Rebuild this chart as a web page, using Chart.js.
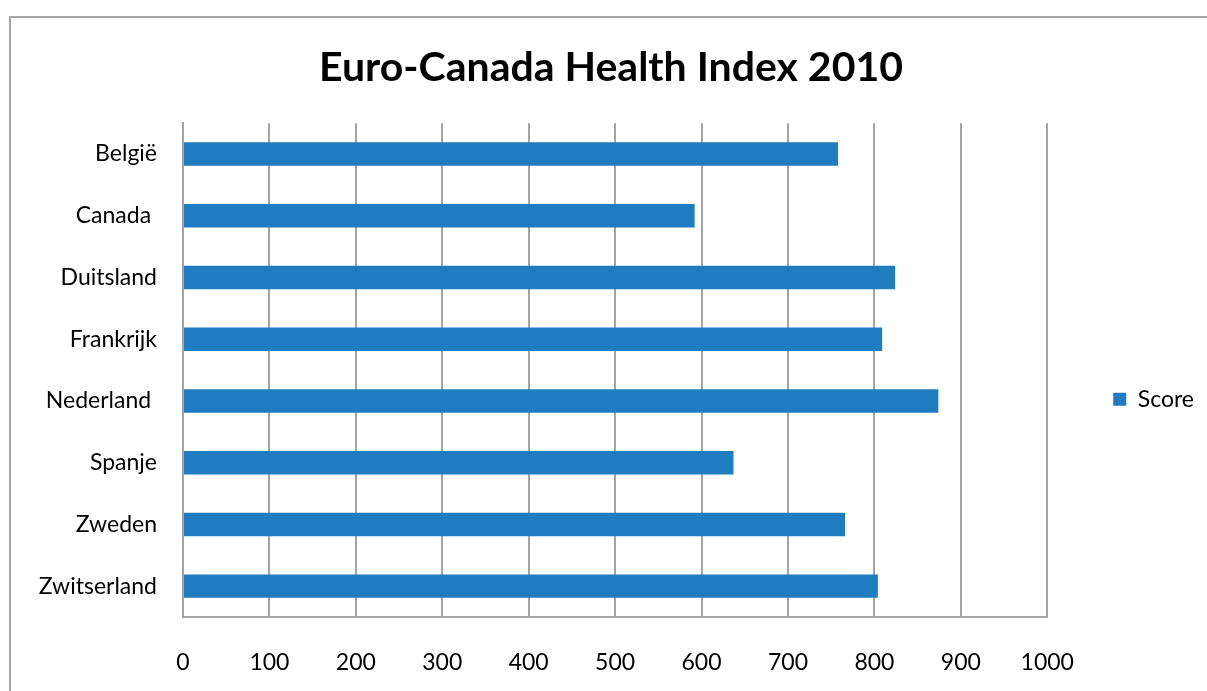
<!DOCTYPE html>
<html>
<head>
<meta charset="utf-8">
<title>Euro-Canada Health Index 2010</title>
<script src="https://cdn.jsdelivr.net/npm/chart.js@4.4.1/dist/chart.umd.min.js"></script>
<style>
  html, body { margin: 0; padding: 0; background: #ffffff; }
  body { width: 1207px; height: 691px; position: relative; overflow: hidden; }
  /* outer frame of the chart object */
  #frame {
    position: absolute; left: 9px; top: 16px; width: 1300px; height: 800px;
    border-left: 2px solid #a6a6a6; border-top: 2px solid #a6a6a6;
    box-sizing: border-box;
  }
  #wrap { position: absolute; left: 0; top: 0; width: 1207px; height: 691px; }
</style>
</head>
<body>
<div id="frame"></div>
<div id="wrap"><canvas id="chart" width="1207" height="691"></canvas></div>
<script>
// Countries and their index score
const countries = ['België', 'Canada ', 'Duitsland', 'Frankrijk', 'Nederland ', 'Spanje', 'Zweden', 'Zwitserland'];
const scores = [758, 592, 824, 809, 874, 637, 766, 804];
const seriesName = 'Score';
const chartTitle = 'Euro-Canada Health Index 2010';
const axisMin = 0;
const axisMax = 1000;
const axisStep = 100;

const barBlue = '#1f7cc0';
const gridGrey = '#a3a3a6';
const labelFont = { family: 'Lato, "Open Sans", sans-serif', size: 23 };

new Chart(document.getElementById('chart'), {
  type: 'bar',
  data: {
    labels: countries,
    datasets: [{
      label: seriesName,
      data: scores,
      backgroundColor: barBlue,
      borderWidth: 0,
      categoryPercentage: 1,
      barPercentage: 0.38
    }]
  },
  options: {
    indexAxis: 'y',
    responsive: false,
    animation: false,
    devicePixelRatio: 1,
    layout: { padding: { left: 18, right: 3, top: 0, bottom: 0 } },
    scales: {
      x: {
        min: axisMin,
        max: axisMax,
        ticks: {
          stepSize: axisStep,
          color: '#000',
          font: labelFont,
          padding: 32,
          callback: (value) => String(value)
        },
        grid: { color: gridGrey, lineWidth: 2, drawTicks: false },
        border: { display: true, color: gridGrey, width: 2 },
        afterFit: (scale) => { scale.height = 74; }
      },
      y: {
        ticks: { color: '#000', font: labelFont, padding: 26 },
        grid: { display: false, drawTicks: false },
        border: { display: true, color: gridGrey, width: 2 },
        afterFit: (scale) => { scale.width = 165; }
      }
    },
    plugins: {
      title: {
        display: true,
        text: chartTitle,
        color: '#000',
        font: { family: 'Lato, "Open Sans", sans-serif', size: 41, weight: 'bold', lineHeight: 1.2 },
        padding: { top: 43, bottom: 31 }
      },
      legend: {
        position: 'right',
        align: 'center',
        title: { display: true, text: '', padding: { top: 93, bottom: 0 } },
        labels: {
          boxWidth: 13,
          boxHeight: 13,
          padding: 66,
          color: '#000',
          font: labelFont
        }
      },
      tooltip: { enabled: false }
    }
  }
});
</script>
</body>
</html>
